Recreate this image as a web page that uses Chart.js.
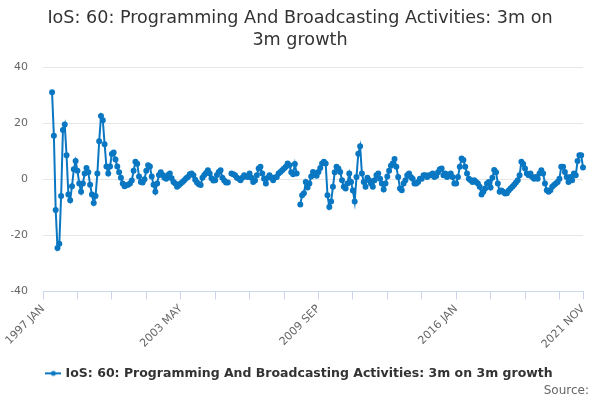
<!DOCTYPE html>
<html>
<head>
<meta charset="utf-8">
<script src="https://cdn.jsdelivr.net/npm/chart.js@4"></script>
<style>
  body { margin: 0; background: #fff; }
  #wrap { width: 600px; height: 400px; }
</style>
</head>
<body>
<div id="wrap"><canvas id="ios60"></canvas></div>
<script>
// 3m on 3m growth, one array per year (Jan..Dec)
const y1997 = [null, null, null, null, null, 31, 15.5, -11, -24.5, -23, -6, 17.5];
const y1998 = [19.5, 8.5, -5.5, -7.5, -2.5, 3.5, 6.5, 3, -1.5, -4.5, -1.5, 2];
const y1999 = [4, 2.5, -2, -5.5, -8.5, -6, 2, 13.5, 22.5, 21, 12.5, 4.5];
const y2000 = [2, 4.5, 9, 9.5, 7, 4.5, 2.5, 0.5, -1.5, -2.5, -2.2, -2];
const y2001 = [-1.5, -0.5, 3, 6.2, 5.5, 1, -1, -1.2, 0, 3, 5, 4.5];
const y2002 = [1, -2, -4.5, -1.5, 1.5, 2.5, 1.5, 0.5, 0.2, 1.5, 2, 0.3];
const y2003 = [-1, -1.5, -2.7, -2.2, -1.5, -1, -0.4, 0.3, 0.8, 1.8, 2, 1.4];
const y2004 = [-0.2, -1.2, -1.8, -2.1, 0.5, 1.5, 2.2, 3.2, 2, 0.3, -0.5, -0.4];
const y2005 = [1.5, 2.6, 3.2, 0.5, -0.5, -1.2, -1.2, null, 2, 1.8, 1.4, 0.5];
const y2006 = [0.2, -0.4, 0.5, 1.4, 1, 0.8, 2, 0.5, -1, -0.5, 1.4, 3.8];
const y2007 = [4.4, 2, 0.2, -1.5, 0.5, 1.4, 0.6, -0.4, 0.6, 0.8, 2, 2.6];
const y2008 = [3.2, 3.8, 4.4, 5.6, 5, 2.5, 1.8, 5.4, 2, null, -9, -5.7];
const y2009 = [-5, -1, -3, -1.5, 1, 2.6, 2, 1.2, 2.6, 4, 5.6, 6.2];
const y2010 = [5.6, -5.7, -9.9, -8, -2.7, 2.5, 4.4, 3.8, 2.6, -0.4, -2.7, -3.3];
const y2011 = [-1.5, 2, -1, -4, -8, 0.8, 9.1, 11.7, 2, -1, -2.7, 0.5];
const y2012 = [-0.4, -1.5, -2.7, -0.4, 1.4, 2, 0.2, -1.5, -3.7, -1.5, 1, 3];
const y2013 = [4.8, 5.6, 7.2, 4.4, 0.8, -3.3, -3.9, -1.5, -0.4, 1.4, 2, 0.8];
const y2014 = [0.2, -1.5, -1.5, -1, 0.2, 0.2, 1.4, 1.4, 0.8, 1.4, 1.4, 2];
const y2015 = [0.8, 1.1, 2.5, 3.5, 3.8, 1.4, 2, 0.8, 1.4, 2, 0.8, -1.5];
const y2016 = [-1.5, 0.8, 4.4, 7.4, 6.8, 4.4, 2, 0.2, -0.4, -1, -0.4, -1];
const y2017 = [-1.5, -2.7, -5.5, -4.5, -3.3, -1.5, -1, -3, 0.5, 3.3, 2.5, -1.5];
const y2018 = [-4.5, -4, -4.5, -5.1, -5, -4, -3.3, -2.7, -2, -1.2, -0.4, 1.4];
const y2019 = [6.2, 5.4, 3.8, 2, 1.4, 2, 0.8, 0.2, 0.8, 0.2, 2, 3.2];
const y2020 = [2, -1.5, -3.9, -4.5, -3.9, -2.7, -2.1, -1.5, -1, 0.2, 4.4, 4.4];
const y2021 = [2.6, 0.8, -1, 0.8, -0.4, 2, 1.4, 6.5, 8.5, 8.5, 4.2];

const growth = [].concat(y1997, y1998, y1999, y2000, y2001, y2002, y2003, y2004,
  y2005, y2006, y2007, y2008, y2009, y2010, y2011, y2012, y2013, y2014, y2015,
  y2016, y2017, y2018, y2019, y2020, y2021);

const monthNames = ['JAN', 'FEB', 'MAR', 'APR', 'MAY', 'JUN', 'JUL', 'AUG', 'SEP', 'OCT', 'NOV', 'DEC'];
const startYear = 1997;
const months = growth.map((v, i) => (startYear + Math.floor(i / 12)) + ' ' + monthNames[i % 12]);

const labelEvery = 76;   // 1997 JAN, 2003 MAY, 2009 SEP, 2016 JAN ... 2021 NOV
const tickEvery = 19;
const lastIdx = months.length - 1;

const blue = '#0a77c2';

// legend symbol: short line with a dot
const sym = document.createElement('canvas');
sym.width = 16; sym.height = 8;
const sc = sym.getContext('2d');
sc.strokeStyle = blue; sc.lineWidth = 2;
sc.beginPath(); sc.moveTo(0, 4); sc.lineTo(16, 4); sc.stroke();
sc.fillStyle = blue;
sc.beginPath(); sc.arc(8, 4, 2.5, 0, Math.PI * 2); sc.fill();

Chart.defaults.font.family = '"DejaVu Sans", sans-serif';
Chart.defaults.color = '#666';

new Chart(document.getElementById('ios60'), {
  type: 'line',
  data: {
    labels: months,
    datasets: [{
      label: 'IoS: 60: Programming And Broadcasting Activities: 3m on 3m growth',
      data: growth,
      borderColor: blue,
      backgroundColor: blue,
      borderWidth: 2,
      pointRadius: 2,
      pointHoverRadius: 3,
      spanGaps: false,
      tension: 0
    }]
  },
  options: {
    responsive: true,
    maintainAspectRatio: false,
    animation: false,
    layout: { padding: { left: 11, right: 11, top: 0, bottom: 2 } },
    plugins: {
      title: {
        display: true,
        text: ['IoS: 60: Programming And Broadcasting Activities: 3m on', '3m growth'],
        color: '#333',
        font: { size: 17.6, weight: 'normal', lineHeight: 1.25 },
        padding: { top: 7, bottom: 16 }
      },
      subtitle: {
        display: true,
        text: 'Source:',
        position: 'bottom',
        align: 'end',
        color: '#666',
        font: { size: 12, weight: 'normal' },
        padding: { top: -6, bottom: 0 }
      },
      legend: {
        position: 'bottom',
        labels: {
          usePointStyle: true,
          pointStyle: sym,
          pointStyleWidth: 12,
          color: '#333',
          font: { size: 12.5, weight: 'bold' },
          padding: 2
        }
      },
      tooltip: { enabled: false }
    },
    scales: {
      x: {
        type: 'category',
        offset: false,
        afterFit: (s) => {
          s.height += 11;
          s.paddingLeft = 0;
          s.paddingRight = 17;
        },
        grid: {
          display: true,
          drawOnChartArea: false,
          drawTicks: true,
          tickLength: 8,
          color: (c) => (c.index % tickEvery === 0 || c.index === lastIdx) ? '#ccd6eb' : 'rgba(0,0,0,0)'
        },
        border: { display: true, color: '#ccd6eb' },
        ticks: {
          autoSkip: false,
          maxRotation: 45,
          minRotation: 45,
          color: '#666',
          font: { size: 11 },
          callback: (v, i) => (i % labelEvery === 0 || i === lastIdx) ? months[i] : ''
        }
      },
      y: {
        min: -40,
        max: 40,
        afterFit: (s) => { s.width = 32; },
        grid: { color: '#e6e6e6', drawTicks: false },
        border: { display: false },
        ticks: {
          stepSize: 20,
          padding: 15,
          color: '#666',
          font: { size: 11 }
        }
      }
    }
  }
});
</script>
</body>
</html>
